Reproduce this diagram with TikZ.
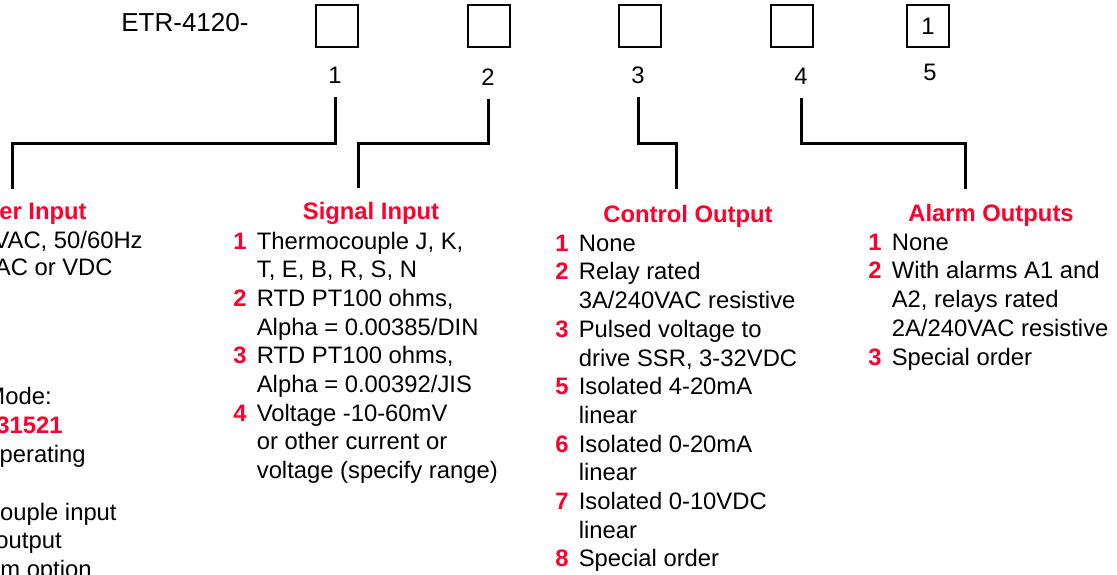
\documentclass[tikz,border=0pt]{standalone}
\usepackage{fontspec}
\setmainfont{Liberation Sans}
\usetikzlibrary{calc}

\definecolor{optred}{RGB}{255,0,45}
\newcommand{\bodysize}{\fontsize{13.55pt}{16.33pt}\selectfont}
\newcommand{\codesize}{\fontsize{14.8pt}{17.8pt}\selectfont}
\newcommand{\optno}[1]{\makebox[0.47cm][l]{\textcolor{optred}{\bfseries #1}}}
\newcommand{\optcont}{\hspace*{0.47cm}}

\tikzset{
    digit box/.style={draw, line width=0.04cm, minimum size=0.84cm, inner sep=0pt, font=\bodysize},
    digit label/.style={inner sep=0pt, font=\bodysize},
    lead/.style={line width=0.06cm},
    group title/.style={anchor=base, inner sep=0pt, text=optred, font=\bodysize\bfseries},
    option list/.style={anchor=north west, inner sep=0pt, align=left, font=\bodysize},
    cut text/.style={anchor=base east, inner sep=0pt, font=\bodysize}
}

\begin{document}
\begin{tikzpicture}

    \useasboundingbox (0,0) rectangle (22.34,11.5);

    \coordinate (rail)  at (0,8.63);
    \coordinate (foot1) at (0.26,7.72);
    \coordinate (foot2) at (7.16,7.74);
    \coordinate (foot3) at (13.52,7.72);
    \coordinate (foot4) at (19.30,7.72);

    \node[anchor=west, inner sep=0pt, font=\codesize] (code) at (2.42,11.05) {ETR-4120-};

    \foreach \n/\x/\val in {1/6.74/{}, 2/9.78/{}, 3/12.80/{}, 4/15.83/{}, 5/18.56/1}
    \node[digit box] (box\n) at (\x,10.98) {\val};

    \foreach \n/\x/\y in {1/6.70/9.99, 2/9.76/9.95, 3/12.76/10.00, 4/16.02/9.98, 5/18.60/10.05}
    \node[digit label] (lab\n) at (\x,\y) {\n};

    \foreach \n in {1,...,4}
    \draw[lead] ([yshift=-0.26cm]lab\n.south) -- (lab\n.south |- rail) -| (foot\n);

    \node[group title, anchor=base east] (power title) at (1.74,7.10) {er Input};
    \node[cut text] (power a) at (2.86,6.52) {VAC, 50/60Hz};
    \node[cut text] (power b) at (2.26,5.98) {AC or VDC};
    \node[cut text] (note a) at (1.04,3.40) {Mode:};
    \node[cut text, text=optred, font=\bodysize\bfseries] (note b) at (1.26,2.82) {31521};
    \node[cut text] (note c) at (1.72,2.24) {perating};
    \node[cut text] (note d) at (2.34,1.08) {ouple input};
    \node[cut text] (note e) at (1.24,0.52) {output};
    \node[cut text] (note f) at (1.84,-0.06) {m option};

    \node[group title] (signal title)  at (7.42,7.10)  {Signal Input};
    \node[group title] (control title) at (13.76,7.05) {Control Output};
    \node[group title] (alarm title)   at (19.82,7.07) {Alarm Outputs};

    \node[option list] (signal list) at (4.66,6.87) {%
        \optno{1}Thermocouple J, K,\\
        \optcont T, E, B, R, S, N\\
        \optno{2}RTD PT100 ohms,\\
        \optcont Alpha = 0.00385/DIN\\
        \optno{3}RTD PT100 ohms,\\
        \optcont Alpha = 0.00392/JIS\\
        \optno{4}Voltage -10-60mV\\
        \optcont or other current or\\
        \optcont voltage (specify range)};

    \node[option list] (control list) at (11.10,6.81) {%
        \optno{1}None\\
        \optno{2}Relay rated\\
        \optcont 3A/240VAC resistive\\
        \optno{3}Pulsed voltage to\\
        \optcont drive SSR, 3-32VDC\\
        \optno{5}Isolated 4-20mA\\
        \optcont linear\\
        \optno{6}Isolated 0-20mA\\
        \optcont linear\\
        \optno{7}Isolated 0-10VDC\\
        \optcont linear\\
        \optno{8}Special order};

    \node[option list] (alarm list) at (17.36,6.83) {%
        \optno{1}None\\
        \optno{2}With alarms A1 and\\
        \optcont A2, relays rated\\
        \optcont 2A/240VAC resistive\\
        \optno{3}Special order};

\end{tikzpicture}
\end{document}
